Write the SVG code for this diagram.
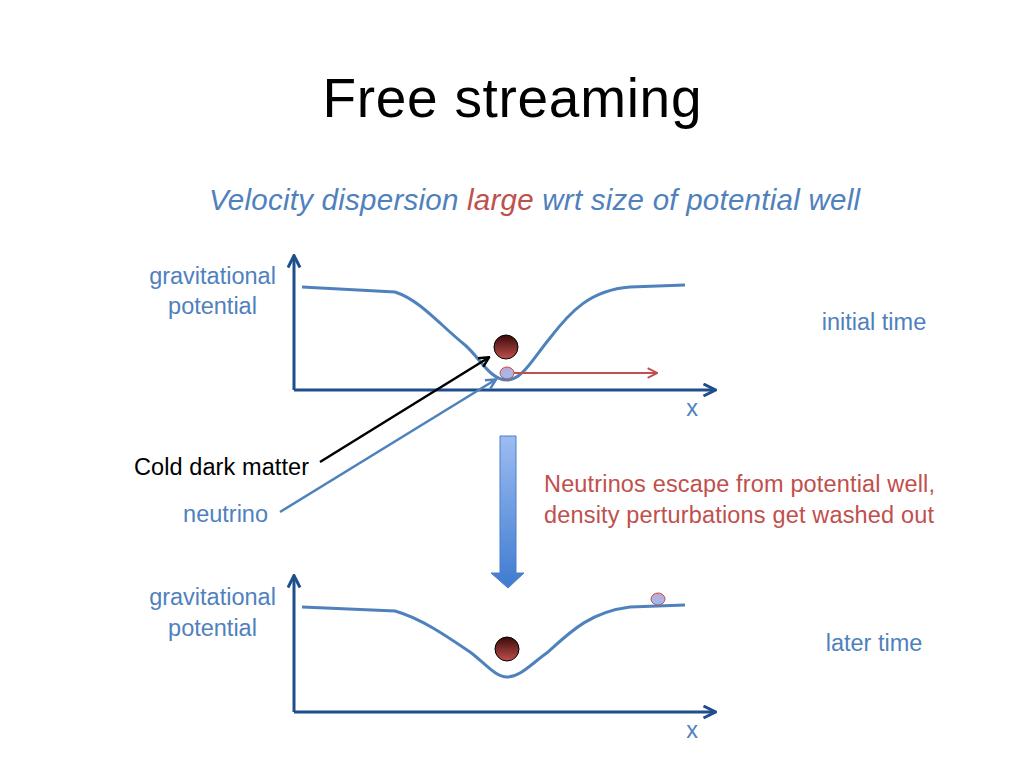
<svg xmlns="http://www.w3.org/2000/svg" width="1024" height="768" viewBox="0 0 1024 768">
<style>
text{font-family:"Liberation Sans",Arial,sans-serif}
.t{fill:#4f81bd;font-size:23.5px}
.r{fill:#c0504d;font-size:23.5px}
.axis{stroke:#1f4e8c;stroke-width:3;fill:none}
.curve{stroke:#4f81bd;stroke-width:3;fill:none}
</style>
<defs>
<marker id="ah" viewBox="0 0 10 10" refX="8" refY="5" markerWidth="5" markerHeight="5" orient="auto" markerUnits="strokeWidth"><path d="M1,1 L9,5 L1,9" fill="none" stroke="#1f4e8c" stroke-width="2"/></marker>
<marker id="ahr" viewBox="0 0 10 10" refX="8" refY="5" markerWidth="6" markerHeight="6" orient="auto" markerUnits="strokeWidth"><path d="M1,1 L9,5 L1,9" fill="none" stroke="#c0504d" stroke-width="1.6"/></marker>
<marker id="ahk" viewBox="0 0 10 10" refX="8" refY="5" markerWidth="5" markerHeight="5" orient="auto" markerUnits="strokeWidth"><path d="M1,1 L9,5 L1,9" fill="none" stroke="#000" stroke-width="2"/></marker>
<marker id="ahb" viewBox="0 0 10 10" refX="8" refY="5" markerWidth="5" markerHeight="5" orient="auto" markerUnits="strokeWidth"><path d="M1,1 L9,5 L1,9" fill="none" stroke="#4f81bd" stroke-width="2"/></marker>
<linearGradient id="ball" x1="0" y1="0" x2="0" y2="1"><stop offset="0" stop-color="#3a0a0a"/><stop offset="1" stop-color="#c0504d"/></linearGradient>
<linearGradient id="nu" x1="0" y1="0" x2="0" y2="1"><stop offset="0" stop-color="#c9a0c8"/><stop offset="0.5" stop-color="#a9b8e6"/><stop offset="1" stop-color="#9fb6ea"/></linearGradient>
<linearGradient id="blk" x1="0" y1="0" x2="0" y2="1"><stop offset="0" stop-color="#9cbcf2"/><stop offset="1" stop-color="#3f7bd0"/></linearGradient>
</defs>

<text x="512" y="117" text-anchor="middle" font-size="55" fill="#000" textLength="379">Free streaming</text>
<text x="534.5" y="210" text-anchor="middle" font-size="29.5" font-style="italic" fill="#4f81bd" textLength="651">Velocity dispersion <tspan fill="#c0504d">large</tspan> wrt size of potential well</text>

<g id="plot-top">
<path class="axis" d="M294,390 L294,257" marker-end="url(#ah)"/>
<path class="axis" d="M294,390 L714,390" marker-end="url(#ah)"/>
<path class="curve" d="M302,287 L395,292 C420,300 440,325 465,345 C480,358 490,380 507,380 C522,380 532,360 550,338 C570,312 590,290 630,287 L685,285"/>
<text class="t" x="212.5" y="284" text-anchor="middle">gravitational</text>
<text class="t" x="212.5" y="314" text-anchor="middle">potential</text>
<text class="t" x="874" y="330" text-anchor="middle">initial time</text>
<text class="t" x="692" y="416" text-anchor="middle">x</text>
</g>

<g id="cdm-top"><circle cx="506" cy="347" r="12" fill="url(#ball)" stroke="#000" stroke-width="1"/></g>
<g id="nu-top"><ellipse cx="507" cy="373" rx="7" ry="6" fill="url(#nu)" stroke="#c0504d" stroke-width="1"/></g>

<g id="connectors">
<path d="M514,373 L656,373" stroke="#c0504d" stroke-width="2" fill="none" marker-end="url(#ahr)"/>
<path d="M320,462 L488,358" stroke="#000" stroke-width="2.5" fill="none" marker-end="url(#ahk)"/>
<path d="M280,512 L495,380" stroke="#4f81bd" stroke-width="2.5" fill="none" marker-end="url(#ahb)"/>
<path d="M500,436 L516,436 L516,573 L524,573 L508,588 L491,573 L500,573 Z" fill="url(#blk)" stroke="#4a7fc9" stroke-width="1"/>
</g>

<g id="labels">
<text x="134" y="475" font-size="23.5" fill="#000" textLength="175">Cold dark matter</text>
<text class="t" x="268" y="522" text-anchor="end">neutrino</text>
<text class="r" x="544" y="492" textLength="391">Neutrinos escape from potential well,</text>
<text class="r" x="544" y="523" textLength="390">density perturbations get washed out</text>
</g>

<g id="plot-bottom">
<path class="axis" d="M294,712 L294,577" marker-end="url(#ah)"/>
<path class="axis" d="M294,712 L714,712" marker-end="url(#ah)"/>
<path class="curve" d="M302,607 L395,611 C420,618 445,635 470,652 C485,663 495,677 507,677 C520,677 530,665 548,652 C570,632 590,612 630,607 L685,605"/>
<text class="t" x="212.5" y="605" text-anchor="middle">gravitational</text>
<text class="t" x="212.5" y="636" text-anchor="middle">potential</text>
<text class="t" x="874" y="651" text-anchor="middle">later time</text>
<text class="t" x="692" y="738" text-anchor="middle">x</text>
</g>

<g id="cdm-bottom"><circle cx="507" cy="649" r="12" fill="url(#ball)" stroke="#000" stroke-width="1"/></g>
<g id="nu-bottom"><ellipse cx="658" cy="599" rx="7" ry="6" fill="url(#nu)" stroke="#c0504d" stroke-width="1"/></g>
</svg>
